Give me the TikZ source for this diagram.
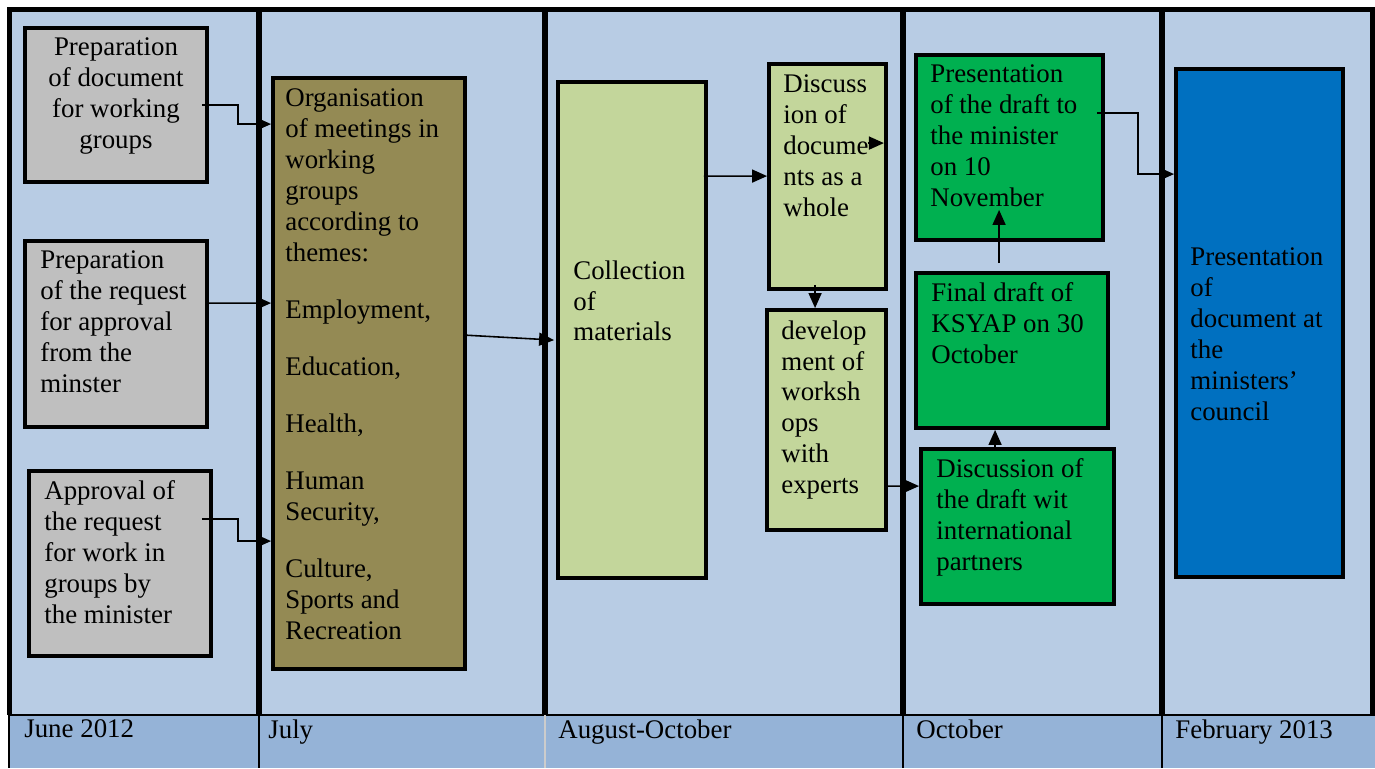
\documentclass[tikz,border=0pt]{standalone}
\usepackage{fontspec}
\setmainfont{Liberation Serif}
\usepackage{xcolor}
\usepackage{tikz}
\usetikzlibrary{arrows.meta,calc,positioning,fit}
\definecolor{bgblue}{HTML}{B8CCE4}
\definecolor{rowblue}{HTML}{95B3D7}
\definecolor{grayb}{HTML}{BFBFBF}
\definecolor{oliveb}{HTML}{948A54}
\definecolor{lgreen}{HTML}{C3D69B}
\definecolor{greenb}{HTML}{00B050}
\definecolor{blueb}{HTML}{0070C0}

\begin{document}
\begin{tikzpicture}[x=0.02cm,y=-0.02cm,font={\fontsize{15.3}{17.64}\selectfont},
  tbox/.style={draw,line width=2.2pt,inner sep=0pt},
  txt/.style={inner sep=0pt,align=left,anchor=north west},
  arr/.style={line width=0.9pt,-{Triangle[length=0.3cm,width=0.26cm]}},
  col/.style={line width=3.1pt}]
\useasboundingbox (0,0) rectangle (1375,768);
\fill[bgblue] (10,10) rectangle (1372,715);
\fill[rowblue] (8,715) rectangle (1375,768);
\draw[line width=1.2pt] (8,715) -- (1375,715);
\foreach \x in {9,259,903,1162} \draw[line width=1pt] (\x,715) -- (\x,768);
\draw[line width=1pt,white!60!gray] (545,715) -- (545,768);
\draw[col] (9.5,715) -- (9.5,9.5) -- (1373,9.5) -- (1373,715);
\foreach \x in {259,545,903,1162} \draw[col] (\x,9.5) -- (\x,715);

\node[tbox,fill=grayb,fit={(25,28)(207,182)}] (prepdoc) {};
\node[tbox,fill=grayb,fit={(25,241)(207,427)}] (prepreq) {};
\node[tbox,fill=grayb,fit={(29,471)(211,656)}] (approval) {};
\node[tbox,fill=oliveb,fit={(273,78)(465,669)}] (org) {};
\node[tbox,fill=lgreen,fit={(558,82)(706,578)}] (coll) {};
\node[tbox,fill=lgreen,fit={(769,64)(886,289)}] (disc) {};
\node[tbox,fill=lgreen,fit={(767,310)(886,530)}] (dev) {};
\node[tbox,fill=greenb,fit={(916,55)(1103,240)}] (pres) {};
\node[tbox,fill=greenb,fit={(916,273)(1108,428)}] (final) {};
\node[tbox,fill=greenb,fit={(921,449)(1114,604)}] (ddraft) {};
\node[tbox,fill=blueb,fit={(1176,69)(1343,577)}] (council) {};

\node[txt,anchor=north,align=center] (prepdoc-t) at (116,37) {Preparation\\of document\\for working\\groups};
\node[txt] (prepreq-t) at (40,250) {Preparation\\of the request\\for approval\\from the\\minster};
\node[txt] (approval-t) at (44,480) {Approval of\\the request\\for work in\\groups by\\the minister};
\node[txt] (org-t) at (285,88) {Organisation\\of meetings in\\working\\groups\\according to\\themes:\\[0.52cm]Employment,\\[0.52cm]Education,\\[0.52cm]Health,\\[0.52cm]Human\\Security,\\[0.52cm]Culture,\\Sports and\\Recreation};
\node[txt] (coll-t) at (573,260) {Collection\\of\\materials};
\node[txt] (disc-t) at (783,74) {Discuss\\ion of\\docume\\nts as a\\whole};
\node[txt] (dev-t) at (781,320) {develop\\ment of\\worksh\\ops\\with\\experts};
\node[txt] (pres-t) at (930,64) {Presentation\\of the draft to\\the minister\\on 10\\November};
\node[txt] (final-t) at (931,282) {Final draft of\\KSYAP on 30\\October};
\node[txt] (ddraft-t) at (936,458) {Discussion of\\the draft wit\\international\\partners};
\node[txt] (council-t) at (1190,247) {Presentation\\of\\document at\\the\\ministers'\\council};

\node[txt] (jun) at (24,719) {June 2012};
\node[txt] (jul) at (268,719) {July};
\node[txt] (aug) at (558,719) {August-October};
\node[txt] (oct) at (916,719) {October};
\node[txt] (feb) at (1175,719) {February 2013};

\draw[arr] ($(prepdoc.east)+(-7,0)$) -- ++(36,0) |- ($(org.north west)+(0,48)$);
\draw[arr] ($(prepreq.north east)+(0,64)$) -- ($(org.north west)+(0,227)$);
\draw[arr] ($(approval.north east)+(-11,50)$) -- ++(36,0) |- ($(org.north west)+(0,465)$);
\draw[arr] ($(org.north east)+(-3,259)$) -- ($(coll.north west)+(-2,260)$);
\draw[arr] ($(coll.north east)+(-4,96)$) -- ($(disc.north west)+(0,114)$);
\draw[arr] ($(disc.north east)+(-20,81)$) -- ++(16,0);
\draw[arr] ($(disc.south west)+(48,-6)$) -- ($(dev.north west)+(50,0)$);
\draw[arr] ($(dev.north east)+(-3,178)$) -- ($(ddraft.north west)+(0,39)$);
\draw[arr] ($(ddraft.north west)+(76,0)$) -- ($(final.south west)+(81,0)$);
\draw[arr] ($(final.north west)+(85,-8)$) -- ($(pres.south west)+(85,-32)$);
\draw[arr] ($(pres.north east)+(-8,60)$) -- ++(41,0) |- ($(council.north west)+(0,107)$);
\end{tikzpicture}
\end{document}
